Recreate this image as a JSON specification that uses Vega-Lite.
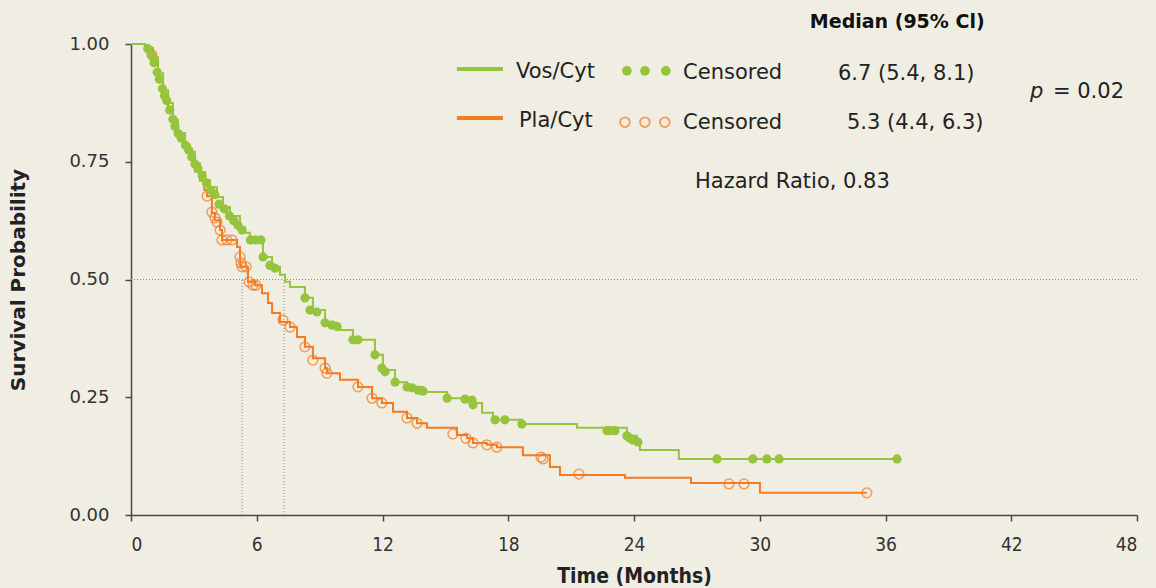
{
  "$schema": "https://vega.github.io/schema/vega-lite/v6.json",
  "width": 1006,
  "height": 471,
  "autosize": {"type": "none"},
  "padding": {"left": 131, "top": 44, "right": 19, "bottom": 73},
  "background": "#F0EDE2",
  "config": {
    "view": {"stroke": null},
    "font": "DejaVu Sans",
    "axis": {"grid": false, "domainColor": "#4a4a45", "domainWidth": 1.5, "tickColor": "#4a4a45", "tickWidth": 1.5, "tickSize": 6, "labelColor": "#333333", "labelFont": "DejaVu Sans", "titleColor": "#222222", "titleFont": "DejaVu Sans", "titleFontWeight": "bold"}
  },
  "datasets": {
    "vos": [
      {"t":0,"S":1.0},{"t":0.67,"S":0.992},{"t":1.05,"S":0.972},{"t":1.29,"S":0.938},{"t":1.53,"S":0.902},{"t":1.77,"S":0.875},{"t":2.0,"S":0.839},{"t":2.24,"S":0.811},{"t":2.58,"S":0.786},{"t":2.81,"S":0.771},{"t":3.05,"S":0.747},{"t":3.29,"S":0.728},{"t":3.53,"S":0.711},{"t":3.77,"S":0.696},{"t":4.1,"S":0.675},{"t":4.39,"S":0.654},{"t":4.72,"S":0.635},{"t":5.2,"S":0.611},{"t":5.44,"S":0.599},{"t":5.68,"S":0.584},{"t":6.3,"S":0.548},{"t":6.73,"S":0.527},{"t":7.11,"S":0.51},{"t":7.35,"S":0.495},{"t":7.59,"S":0.484},{"t":8.3,"S":0.461},{"t":8.68,"S":0.435},{"t":9.26,"S":0.408},{"t":9.83,"S":0.393},{"t":10.59,"S":0.372},{"t":11.64,"S":0.34},{"t":12.02,"S":0.308},{"t":12.6,"S":0.282},{"t":13.17,"S":0.272},{"t":13.93,"S":0.261},{"t":15.08,"S":0.248},{"t":16.03,"S":0.244},{"t":16.32,"S":0.238},{"t":16.75,"S":0.217},{"t":17.27,"S":0.202},{"t":18.65,"S":0.193},{"t":21.28,"S":0.185},{"t":23.66,"S":0.168},{"t":24.14,"S":0.155},{"t":24.28,"S":0.138},{"t":26.14,"S":0.119},{"t":36.55,"S":0.119}
    ],
    "pla": [
      {"t":0,"S":1.0},{"t":0.67,"S":0.99},{"t":1.05,"S":0.965},{"t":1.29,"S":0.93},{"t":1.53,"S":0.895},{"t":1.77,"S":0.865},{"t":2.0,"S":0.83},{"t":2.24,"S":0.8},{"t":2.58,"S":0.775},{"t":2.81,"S":0.755},{"t":3.05,"S":0.73},{"t":3.29,"S":0.71},{"t":3.5,"S":0.69},{"t":3.63,"S":0.677},{"t":3.86,"S":0.641},{"t":4.0,"S":0.626},{"t":4.25,"S":0.605},{"t":4.34,"S":0.584},{"t":5.06,"S":0.569},{"t":5.2,"S":0.548},{"t":5.21,"S":0.527},{"t":5.58,"S":0.495},{"t":5.92,"S":0.488},{"t":6.25,"S":0.471},{"t":6.54,"S":0.45},{"t":6.73,"S":0.429},{"t":7.11,"S":0.41},{"t":7.59,"S":0.399},{"t":7.92,"S":0.378},{"t":8.3,"S":0.357},{"t":8.68,"S":0.333},{"t":9.26,"S":0.312},{"t":9.35,"S":0.301},{"t":9.97,"S":0.287},{"t":10.83,"S":0.272},{"t":11.5,"S":0.248},{"t":11.97,"S":0.238},{"t":12.5,"S":0.219},{"t":13.17,"S":0.206},{"t":13.65,"S":0.195},{"t":14.12,"S":0.185},{"t":15.55,"S":0.17},{"t":16.03,"S":0.163},{"t":16.32,"S":0.153},{"t":16.98,"S":0.149},{"t":17.46,"S":0.144},{"t":18.7,"S":0.127},{"t":19.99,"S":0.102},{"t":20.47,"S":0.085},{"t":23.57,"S":0.079},{"t":26.72,"S":0.068},{"t":30.01,"S":0.047},{"t":35.11,"S":0.047}
    ],
    "vos_cens": [
      {"t":0.8,"S":0.99},{"t":1.0,"S":0.975},{"t":1.1,"S":0.96},{"t":1.25,"S":0.94},{"t":1.35,"S":0.925},{"t":1.5,"S":0.905},{"t":1.6,"S":0.89},{"t":1.7,"S":0.88},{"t":1.85,"S":0.86},{"t":2.0,"S":0.84},{"t":2.1,"S":0.825},{"t":2.25,"S":0.81},{"t":2.4,"S":0.8},{"t":2.6,"S":0.785},{"t":2.75,"S":0.775},{"t":2.9,"S":0.76},{"t":3.05,"S":0.745},{"t":3.2,"S":0.735},{"t":3.4,"S":0.72},{"t":3.6,"S":0.705},{"t":3.8,"S":0.69},{"t":4.0,"S":0.68},{"t":4.2,"S":0.66},{"t":4.45,"S":0.65},{"t":4.7,"S":0.635},{"t":4.9,"S":0.625},{"t":5.1,"S":0.615},{"t":5.3,"S":0.605},{"t":5.7,"S":0.584},{"t":5.95,"S":0.584},{"t":6.2,"S":0.584},{"t":6.3,"S":0.548},{"t":6.63,"S":0.53},{"t":6.87,"S":0.524},{"t":8.3,"S":0.461},{"t":8.54,"S":0.435},{"t":8.87,"S":0.431},{"t":9.26,"S":0.408},{"t":9.59,"S":0.403},{"t":9.83,"S":0.4},{"t":10.59,"S":0.372},{"t":10.83,"S":0.372},{"t":11.64,"S":0.34},{"t":11.97,"S":0.312},{"t":12.12,"S":0.304},{"t":12.6,"S":0.282},{"t":13.17,"S":0.272},{"t":13.4,"S":0.27},{"t":13.7,"S":0.265},{"t":13.93,"S":0.263},{"t":15.08,"S":0.248},{"t":15.94,"S":0.246},{"t":16.27,"S":0.244},{"t":16.32,"S":0.234},{"t":17.37,"S":0.202},{"t":17.84,"S":0.202},{"t":18.65,"S":0.193},{"t":22.71,"S":0.179},{"t":22.85,"S":0.179},{"t":23.09,"S":0.179},{"t":23.66,"S":0.168},{"t":23.8,"S":0.163},{"t":23.95,"S":0.159},{"t":24.19,"S":0.155},{"t":27.96,"S":0.119},{"t":29.67,"S":0.119},{"t":30.34,"S":0.119},{"t":30.92,"S":0.119},{"t":36.55,"S":0.119}
    ],
    "pla_cens": [
      {"t":1.0,"S":0.977},{"t":3.63,"S":0.677},{"t":3.86,"S":0.643},{"t":4.0,"S":0.631},{"t":4.1,"S":0.622},{"t":4.25,"S":0.605},{"t":4.34,"S":0.584},{"t":4.58,"S":0.584},{"t":4.82,"S":0.584},{"t":5.2,"S":0.548},{"t":5.25,"S":0.535},{"t":5.3,"S":0.527},{"t":5.49,"S":0.527},{"t":5.63,"S":0.495},{"t":5.82,"S":0.488},{"t":5.96,"S":0.488},{"t":7.25,"S":0.414},{"t":7.59,"S":0.399},{"t":8.3,"S":0.357},{"t":8.68,"S":0.329},{"t":9.26,"S":0.312},{"t":9.35,"S":0.301},{"t":10.83,"S":0.272},{"t":11.5,"S":0.248},{"t":11.97,"S":0.238},{"t":13.17,"S":0.206},{"t":13.65,"S":0.195},{"t":15.36,"S":0.172},{"t":15.98,"S":0.163},{"t":16.32,"S":0.153},{"t":16.98,"S":0.149},{"t":17.46,"S":0.144},{"t":19.56,"S":0.123},{"t":19.66,"S":0.119},{"t":21.37,"S":0.087},{"t":28.53,"S":0.066},{"t":29.25,"S":0.066},{"t":35.11,"S":0.047}
    ],
    "medians": [{"t":5.3},{"t":7.3}],
    "legend_lines": [
      {"series":"Vos/Cyt","t":15.55,"t2":17.75,"S":0.947},
      {"series":"Pla/Cyt","t":15.55,"t2":17.75,"S":0.843}
    ],
    "legend_vos_dots": [{"t":23.66,"S":0.943},{"t":24.52,"S":0.943},{"t":25.52,"S":0.943}],
    "legend_pla_dots": [{"t":23.57,"S":0.834},{"t":24.52,"S":0.834},{"t":25.47,"S":0.834}],
    "notes": [
      {"label":"Vos/Cyt","t":18.37,"S":0.94},
      {"label":"Pla/Cyt","t":18.51,"S":0.836},
      {"label":"Censored","t":26.34,"S":0.938},
      {"label":"Censored","t":26.34,"S":0.832},
      {"label":"6.7 (5.4, 8.1)","t":33.73,"S":0.936},
      {"label":"5.3 (4.4, 6.3)","t":34.16,"S":0.832},
      {"label":"= 0.02","t":43.99,"S":0.898},
      {"label":"Hazard Ratio, 0.83","t":26.91,"S":0.707}
    ],
    "bold_notes": [{"label":"Median (95% Cl)","t":32.39,"S":1.047}],
    "italic_notes": [{"label":"p","t":42.89,"S":0.898}]
  },
  "layer": [
    {
      "data": {"values": [{"S": 0.5}]},
      "mark": {"type": "rule", "color": "#8a8a85", "strokeDash": [1, 2], "strokeWidth": 1},
      "encoding": {"y": {"field": "S", "type": "quantitative", "scale": {"domain": [0, 1], "nice": false}}}
    },
    {
      "data": {"name": "medians"},
      "mark": {"type": "rule", "color": "#8a8a85", "strokeDash": [1, 2], "strokeWidth": 1},
      "encoding": {
        "x": {"field": "t", "type": "quantitative", "scale": {"domain": [0, 48], "nice": false, "zero": false}},
        "y": {"datum": 0},
        "y2": {"datum": 0.5}
      }
    },
    {
      "data": {"name": "pla"},
      "mark": {"type": "line", "interpolate": "step-after", "color": "#F47B20", "strokeWidth": 2},
      "encoding": {
        "x": {"field": "t", "type": "quantitative", "scale": {"domain": [0, 48], "nice": false, "zero": false},
          "axis": {"values": [0, 6, 12, 18, 24, 30, 36, 42, 48], "format": "d", "title": "Time (Months)", "labelFontSize": 19, "labelPadding": 14, "titleFontSize": 21, "titlePadding": 11, "labelFont": "DejaVu Sans Condensed", "titleFont": "DejaVu Sans Condensed"}},
        "y": {"field": "S", "type": "quantitative", "scale": {"domain": [0, 1], "nice": false},
          "axis": {"values": [0, 0.25, 0.5, 0.75, 1], "format": ".2f", "title": "Survival Probability", "labelFontSize": 18, "labelPadding": 16, "titleFontSize": 20, "titlePadding": 40}}
      }
    },
    {
      "data": {"name": "vos"},
      "mark": {"type": "line", "interpolate": "step-after", "color": "#96C43C", "strokeWidth": 2},
      "encoding": {
        "x": {"field": "t", "type": "quantitative"},
        "y": {"field": "S", "type": "quantitative"}
      }
    },
    {
      "data": {"name": "pla_cens"},
      "mark": {"type": "point", "shape": "circle", "filled": false, "color": "#F47B20", "strokeWidth": 1.5, "size": 95},
      "encoding": {
        "x": {"field": "t", "type": "quantitative"},
        "y": {"field": "S", "type": "quantitative"}
      }
    },
    {
      "data": {"name": "vos_cens"},
      "mark": {"type": "point", "shape": "circle", "filled": true, "color": "#96C43C", "opacity": 1, "size": 85},
      "encoding": {
        "x": {"field": "t", "type": "quantitative"},
        "y": {"field": "S", "type": "quantitative"}
      }
    },
    {
      "data": {"name": "legend_lines"},
      "mark": {"type": "rule", "strokeWidth": 4},
      "encoding": {
        "x": {"field": "t", "type": "quantitative"},
        "x2": {"field": "t2"},
        "y": {"field": "S", "type": "quantitative"},
        "color": {"field": "series", "type": "nominal", "scale": {"domain": ["Vos/Cyt", "Pla/Cyt"], "range": ["#96C43C", "#F47B20"]}, "legend": null}
      }
    },
    {
      "data": {"name": "legend_vos_dots"},
      "mark": {"type": "point", "shape": "circle", "filled": true, "color": "#96C43C", "opacity": 1, "size": 95},
      "encoding": {
        "x": {"field": "t", "type": "quantitative"},
        "y": {"field": "S", "type": "quantitative"}
      }
    },
    {
      "data": {"name": "legend_pla_dots"},
      "mark": {"type": "point", "shape": "circle", "filled": false, "color": "#F47B20", "strokeWidth": 1.8, "size": 95},
      "encoding": {
        "x": {"field": "t", "type": "quantitative"},
        "y": {"field": "S", "type": "quantitative"}
      }
    },
    {
      "data": {"name": "notes"},
      "mark": {"type": "text", "align": "left", "baseline": "middle", "fontSize": 21, "color": "#222222", "font": "DejaVu Sans"},
      "encoding": {
        "x": {"field": "t", "type": "quantitative"},
        "y": {"field": "S", "type": "quantitative"},
        "text": {"field": "label"}
      }
    },
    {
      "data": {"name": "bold_notes"},
      "mark": {"type": "text", "align": "left", "baseline": "middle", "fontSize": 19, "fontWeight": "bold", "color": "#111111", "font": "DejaVu Sans"},
      "encoding": {
        "x": {"field": "t", "type": "quantitative"},
        "y": {"field": "S", "type": "quantitative"},
        "text": {"field": "label"}
      }
    },
    {
      "data": {"name": "italic_notes"},
      "mark": {"type": "text", "align": "left", "baseline": "middle", "fontSize": 21, "fontStyle": "italic", "color": "#222222", "font": "DejaVu Sans"},
      "encoding": {
        "x": {"field": "t", "type": "quantitative"},
        "y": {"field": "S", "type": "quantitative"},
        "text": {"field": "label"}
      }
    }
  ]
}
